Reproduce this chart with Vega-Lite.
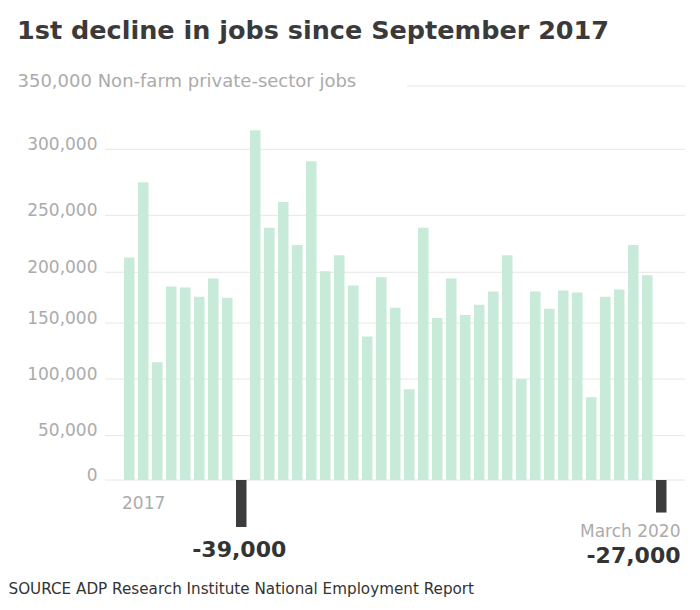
{
  "$schema": "https://vega.github.io/schema/vega-lite/v6.json",
  "autosize": {"type": "none"},
  "width": 580,
  "height": 441,
  "padding": {"left": 105, "top": 86, "right": 15, "bottom": 83},
  "background": "#ffffff",
  "title": {
    "text": "1st decline in jobs since September 2017",
    "anchor": "start",
    "frame": "group",
    "dx": -88,
    "offset": 28,
    "font": "DejaVu Sans",
    "fontWeight": "bold",
    "fontSize": 25.5,
    "color": "#3a3a3a"
  },
  "config": {
    "view": {"stroke": null},
    "axis": {"labelFont": "DejaVu Sans", "titleFont": "DejaVu Sans"}
  },
  "datasets": {
    "jobs": [
      {"month": "2017-01", "value": 213000},
      {"month": "2017-02", "value": 275000},
      {"month": "2017-03", "value": 115000},
      {"month": "2017-04", "value": 186000},
      {"month": "2017-05", "value": 185000},
      {"month": "2017-06", "value": 176000},
      {"month": "2017-07", "value": 194000},
      {"month": "2017-08", "value": 175000},
      {"month": "2017-09", "value": -39000},
      {"month": "2017-10", "value": 315000},
      {"month": "2017-11", "value": 239000},
      {"month": "2017-12", "value": 260000},
      {"month": "2018-01", "value": 224000},
      {"month": "2018-02", "value": 291000},
      {"month": "2018-03", "value": 201000},
      {"month": "2018-04", "value": 215000},
      {"month": "2018-05", "value": 187000},
      {"month": "2018-06", "value": 138000},
      {"month": "2018-07", "value": 195000},
      {"month": "2018-08", "value": 165000},
      {"month": "2018-09", "value": 91000},
      {"month": "2018-10", "value": 239000},
      {"month": "2018-11", "value": 155000},
      {"month": "2018-12", "value": 194000},
      {"month": "2019-01", "value": 158000},
      {"month": "2019-02", "value": 168000},
      {"month": "2019-03", "value": 181000},
      {"month": "2019-04", "value": 215000},
      {"month": "2019-05", "value": 100000},
      {"month": "2019-06", "value": 181000},
      {"month": "2019-07", "value": 164000},
      {"month": "2019-08", "value": 182000},
      {"month": "2019-09", "value": 180000},
      {"month": "2019-10", "value": 84000},
      {"month": "2019-11", "value": 176000},
      {"month": "2019-12", "value": 183000},
      {"month": "2020-01", "value": 224000},
      {"month": "2020-02", "value": 197000},
      {"month": "2020-03", "value": -27000}
    ],
    "grid": [
      {"tick": 0}, {"tick": 50000}, {"tick": 100000}, {"tick": 150000},
      {"tick": 200000}, {"tick": 250000}, {"tick": 300000}, {"tick": 350000}
    ]
  },
  "layer": [
    {
      "data": {"name": "grid"},
      "mark": {"type": "rule", "color": "#e6e6e6", "strokeWidth": 1},
      "encoding": {
        "y": {"field": "tick", "type": "quantitative"},
        "strokeDash": {"condition": {"test": "datum.tick == 350000", "value": [278, 302]}, "value": [1, 0]}
      }
    },
    {
      "data": {"name": "jobs"},
      "mark": {"type": "bar"},
      "encoding": {
        "x": {
          "field": "month",
          "type": "ordinal",
          "scale": {"range": [19, 561.5], "paddingInner": 0.25, "paddingOuter": 0},
          "axis": {
            "labels": false,
            "ticks": false,
            "domain": false,
            "grid": false,
            "title": "SOURCE ADP Research Institute National Employment Report",
            "titleAnchor": "start",
            "titleAlign": "left",
            "titleBaseline": "alphabetic",
            "titleX": -97,
            "titleY": 66,
            "titleFontSize": 15.2,
            "titleFontWeight": "normal",
            "titleColor": "#333333"
          }
        },
        "y": {
          "field": "value",
          "type": "quantitative",
          "scale": {
            "domain": [-39000, 0, 50000, 100000, 150000, 200000, 250000, 300000, 350000],
            "range": [441, 394, 349.7, 293, 237, 186.3, 129.3, 63.3, 0],
            "nice": false,
            "zero": false
          },
          "axis": {
            "title": null,
            "values": [0, 50000, 100000, 150000, 200000, 250000, 300000, 350000],
            "domain": false,
            "ticks": false,
            "grid": false,
            "labelExpr": "datum.value == 350000 ? '350,000 Non-farm private-sector jobs' : format(datum.value, ',')",
            "labelAlign": {"condition": {"test": "datum.value == 350000", "value": "left"}, "value": "right"},
            "labelPadding": {"condition": {"test": "datum.value == 350000", "value": 88}, "value": 8},
            "labelFontSize": {"condition": {"test": "datum.value == 350000", "value": 18}, "value": 17},
            "labelBaseline": "alphabetic",
            "labelColor": "#ababab",
            "labelLimit": 600,
            "labelFlush": false,
            "labelBound": false,
            "labelOverlap": false
          }
        },
        "color": {
          "condition": {"test": "datum.value < 0", "value": "#3c3c3c"},
          "value": "#c8ead8"
        }
      }
    },
    {
      "data": {"values": [{"month": "2017-01", "label": "2017"}]},
      "mark": {"type": "text", "align": "left", "baseline": "alphabetic", "dx": -2, "dy": 29, "font": "DejaVu Sans", "fontSize": 17, "color": "#ababab"},
      "encoding": {
        "x": {"field": "month", "type": "ordinal", "bandPosition": 0},
        "y": {"datum": 0, "type": "quantitative"},
        "text": {"field": "label"}
      }
    },
    {
      "data": {"values": [{"month": "2020-03", "label": "March 2020"}]},
      "mark": {"type": "text", "align": "right", "baseline": "alphabetic", "dx": 14, "dy": 24, "font": "DejaVu Sans", "fontSize": 17, "color": "#ababab"},
      "encoding": {
        "x": {"field": "month", "type": "ordinal", "bandPosition": 1},
        "y": {"datum": -27000, "type": "quantitative"},
        "text": {"field": "label"}
      }
    },
    {
      "data": {"values": [{"month": "2020-03", "label": "-27,000"}]},
      "mark": {"type": "text", "align": "right", "baseline": "alphabetic", "dx": 14, "dy": 50, "font": "DejaVu Sans", "fontWeight": "bold", "fontSize": 22, "color": "#333333"},
      "encoding": {
        "x": {"field": "month", "type": "ordinal", "bandPosition": 1},
        "y": {"datum": -27000, "type": "quantitative"},
        "text": {"field": "label"}
      }
    },
    {
      "data": {"values": [{"month": "2017-09", "label": "-39,000"}]},
      "mark": {"type": "text", "align": "center", "baseline": "alphabetic", "dx": -2, "dy": 30, "font": "DejaVu Sans", "fontWeight": "bold", "fontSize": 22, "color": "#333333"},
      "encoding": {
        "x": {"field": "month", "type": "ordinal"},
        "y": {"datum": -39000, "type": "quantitative"},
        "text": {"field": "label"}
      }
    }
  ]
}
